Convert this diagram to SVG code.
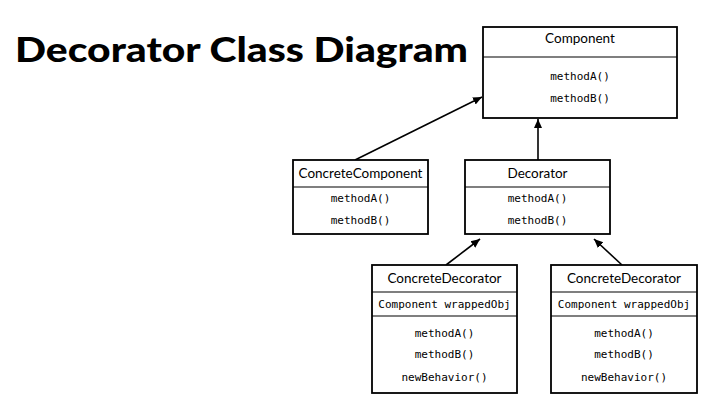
<svg xmlns="http://www.w3.org/2000/svg" width="712" height="413" viewBox="0 0 712 413">
<style>
.box{fill:#fff;stroke:#000;stroke-width:1.8}
.div{stroke:#000;stroke-width:1.2}
.hd{font-family:Lato,"Liberation Sans",sans-serif;font-size:13.5px;text-anchor:middle;fill:#000}
.m{font-family:"DejaVu Sans Mono","Liberation Mono",monospace;font-size:11px;text-anchor:middle;fill:#000}
.title{font-family:Lato,"Liberation Sans",sans-serif;font-weight:900;font-size:34px;fill:#000}
.edge{stroke:#000;stroke-width:1.6;fill:none;marker-end:url(#ah)}
</style>
<defs>
<marker id="ah" markerWidth="10" markerHeight="10" refX="9" refY="5" orient="auto" markerUnits="userSpaceOnUse">
<path d="M0,1 L9,5 L0,9 Z" fill="#000"/>
</marker>
</defs>
<rect width="712" height="413" fill="#fff"/>
<text class="title" x="15" y="62" textLength="453" lengthAdjust="spacingAndGlyphs">Decorator Class Diagram</text>
<g id="connectors">
<line class="edge" x1="355" y1="160" x2="482" y2="97"/>
<line class="edge" x1="538" y1="160" x2="538" y2="119"/>
<line class="edge" x1="446" y1="265" x2="480" y2="239"/>
<line class="edge" x1="622" y1="265" x2="594" y2="239"/>
</g>
<g id="component">
<rect class="box" x="483" y="27" width="194" height="91"/>
<line class="div" x1="483" y1="57" x2="677" y2="57"/>
<text class="hd" x="580" y="43">Component</text>
<text class="m" x="580" y="80">methodA()</text>
<text class="m" x="580" y="102">methodB()</text>
</g>
<g id="concreteComponent">
<rect class="box" x="293" y="160" width="135" height="74"/>
<line class="div" x1="293" y1="187" x2="428" y2="187"/>
<text class="hd" x="360.5" y="178">ConcreteComponent</text>
<text class="m" x="360.5" y="202">methodA()</text>
<text class="m" x="360.5" y="224">methodB()</text>
</g>
<g id="decorator">
<rect class="box" x="465" y="160" width="145" height="74"/>
<line class="div" x1="465" y1="187" x2="610" y2="187"/>
<text class="hd" x="537.5" y="178">Decorator</text>
<text class="m" x="537.5" y="202">methodA()</text>
<text class="m" x="537.5" y="224">methodB()</text>
</g>
<g id="concreteDecorator1">
<rect class="box" x="372" y="265" width="145" height="128"/>
<line class="div" x1="372" y1="292" x2="517" y2="292"/>
<line class="div" x1="372" y1="316" x2="517" y2="316"/>
<text class="hd" x="444.5" y="283">ConcreteDecorator</text>
<text class="m" x="444.5" y="308">Component wrappedObj</text>
<text class="m" x="444.5" y="337">methodA()</text>
<text class="m" x="444.5" y="358">methodB()</text>
<text class="m" x="444.5" y="381">newBehavior()</text>
</g>
<g id="concreteDecorator2">
<rect class="box" x="551" y="265" width="146" height="128"/>
<line class="div" x1="551" y1="292" x2="697" y2="292"/>
<line class="div" x1="551" y1="316" x2="697" y2="316"/>
<text class="hd" x="624" y="283">ConcreteDecorator</text>
<text class="m" x="624" y="308">Component wrappedObj</text>
<text class="m" x="624" y="337">methodA()</text>
<text class="m" x="624" y="358">methodB()</text>
<text class="m" x="624" y="381">newBehavior()</text>
</g>
</svg>
